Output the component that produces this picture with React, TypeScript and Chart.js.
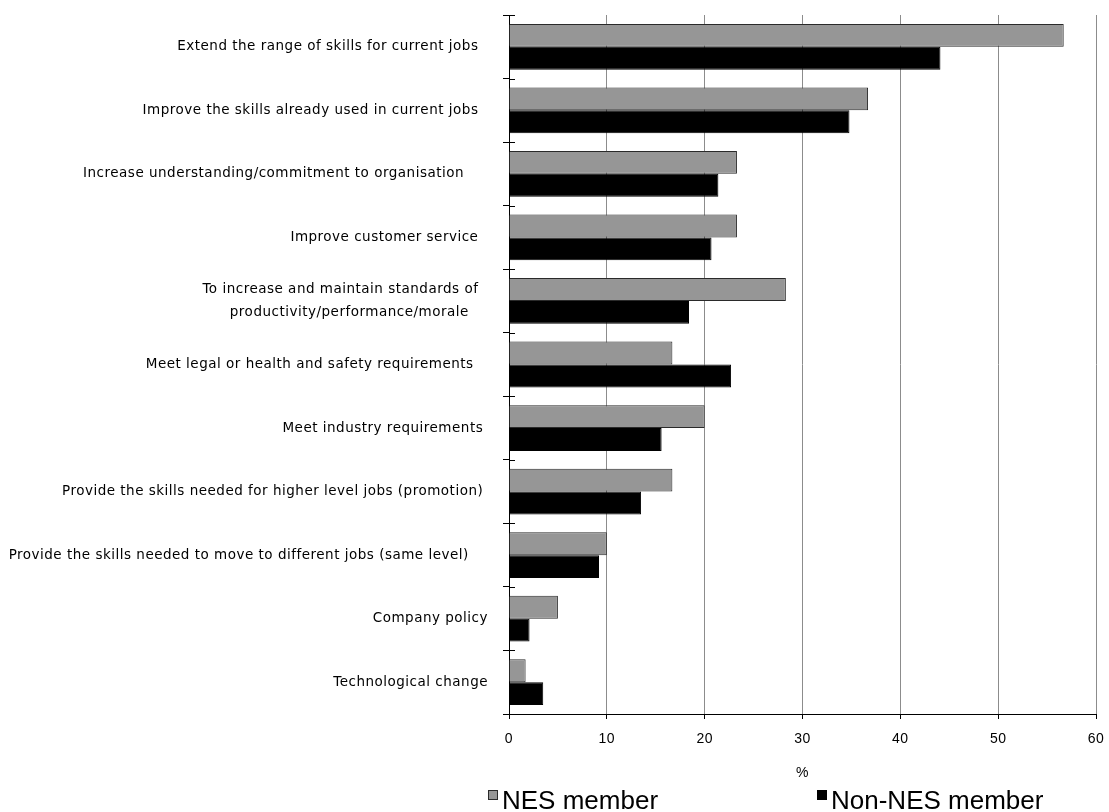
import React, { useEffect, useRef } from 'react';
import { Chart, registerables } from 'chart.js';

Chart.register(...registerables);

// Reasons for training; trailing spaces keep the original label spacing.
const categories: (string | string[])[] = [
  'Extend the range of skills for current jobs  ',
  'Improve the skills already used in current jobs  ',
  'Increase understanding/commitment to organisation     ',
  'Improve customer service  ',
  ['To increase and maintain standards of  ', 'productivity/performance/morale    '],
  'Meet legal or health and safety requirements   ',
  'Meet industry requirements ',
  'Provide the skills needed for higher level jobs (promotion) ',
  'Provide the skills needed to move to different jobs (same level)    ',
  'Company policy',
  'Technological change',
];

const seriesNames = ['NES member', 'Non-NES member'];
const nesMember = [56.7, 36.7, 23.3, 23.3, 28.3, 16.7, 20.0, 16.7, 10.0, 5.0, 1.7];
const nonNesMember = [44.1, 34.8, 21.4, 20.7, 18.4, 22.7, 15.6, 13.5, 9.2, 2.1, 3.5];

const xMin = 0;
const xMax = 60;
const xStep = 10;
const xTitle = '%';

const GREY = '#969696';
const BLACK = '#000000';

// Slightly wider letter spacing for the axis text.
const textSpacing = {
  id: 'textSpacing',
  beforeDraw(chart: any) {
    chart.ctx.letterSpacing = '0.5px';
  },
};

// Small cross marks on the category axis, drawn to the right of the axis line.
const crossTicks = {
  id: 'crossTicks',
  afterDatasetsDraw(chart: any) {
    const { ctx, chartArea } = chart;
    const n = categories.length;
    const step = (chartArea.bottom - chartArea.top) / n;
    ctx.save();
    ctx.strokeStyle = '#000';
    ctx.lineWidth = 1;
    ctx.beginPath();
    for (let i = 0; i <= n; i++) {
      const y = Math.round(chartArea.top + i * step) + 0.5;
      ctx.moveTo(chartArea.left, y);
      ctx.lineTo(chartArea.left + 6, y);
    }
    ctx.stroke();
    ctx.restore();
  },
};

// Legend row under the axis title.
const bottomLegend = {
  id: 'bottomLegend',
  afterDraw(chart: any, _args: any, opts: any) {
    const { ctx } = chart;
    ctx.save();
    ctx.letterSpacing = '0px';
    ctx.font = `${opts.fontSize}px ${opts.fontFamily}`;
    ctx.textBaseline = 'alphabetic';
    ctx.textAlign = 'left';
    chart.data.datasets.forEach((ds: any, i: number) => {
      const x = opts.positions[i];
      ctx.fillStyle = ds.backgroundColor;
      ctx.fillRect(x, opts.boxTop, opts.boxSize, opts.boxSize);
      ctx.strokeStyle = ds.borderColor;
      ctx.lineWidth = 1;
      ctx.strokeRect(x + 0.5, opts.boxTop + 0.5, opts.boxSize - 1, opts.boxSize - 1);
      ctx.fillStyle = '#000';
      ctx.fillText(ds.label, x + opts.boxSize + 4, opts.baseline);
    });
    ctx.restore();
  },
};

export default function App() {
  const canvasRef = useRef<HTMLCanvasElement | null>(null);

  useEffect(() => {
    document.body.style.margin = '0';
    const canvas = canvasRef.current;
    if (!canvas) return;
    const chart = new Chart(canvas, {
      type: 'bar',
      data: {
        labels: categories,
        datasets: [
          {
            label: seriesNames[0],
            data: nesMember,
            backgroundColor: GREY,
            borderColor: '#2a2a2a',
            borderWidth: 1,
          },
          {
            label: seriesNames[1],
            data: nonNesMember,
            backgroundColor: BLACK,
            borderColor: BLACK,
            borderWidth: 1,
          },
        ],
      },
      plugins: [textSpacing, crossTicks, bottomLegend],
      options: {
        indexAxis: 'y',
        animation: false,
        responsive: true,
        maintainAspectRatio: false,
        datasets: {
          bar: {
            categoryPercentage: 0.72,
            barPercentage: 1,
          },
        },
        layout: { padding: { top: 15, right: 13, left: 0, bottom: 0 } },
        plugins: {
          legend: { display: false },
          tooltip: { enabled: false },
          bottomLegend: {
            positions: [488, 817],
            boxTop: 790,
            boxSize: 10,
            baseline: 809,
            fontSize: 26,
            fontFamily: "'Liberation Sans', Arial, sans-serif",
          },
        } as any,
        scales: {
          x: {
            min: xMin,
            max: xMax,
            afterFit: (s: any) => {
              s.height = 98;
              s.paddingLeft = 0;
              s.paddingRight = 0;
            },
            ticks: {
              stepSize: xStep,
              color: '#000',
              padding: 12,
              font: { family: "'Liberation Sans Narrow', 'Liberation Sans', sans-serif", size: 14 },
            },
            grid: {
              color: '#8c8c8c',
              lineWidth: 1,
              tickColor: '#000',
              tickLength: 5,
            },
            border: { display: true, color: '#000', width: 1 },
            title: {
              display: true,
              text: xTitle,
              color: '#000',
              font: { family: "'Liberation Sans Narrow', 'Liberation Sans', sans-serif", size: 14 },
              padding: { top: 0, bottom: 30 },
            },
          },
          y: {
            afterFit: (s: any) => {
              s.width = 509;
              s.paddingTop = 0;
              s.paddingBottom = 0;
            },
            ticks: {
              color: '#000',
              padding: 15,
              autoSkip: false,
              font: { family: "'DejaVu Sans', sans-serif", size: 13.5, lineHeight: 1.65 },
            },
            grid: {
              drawOnChartArea: false,
              tickColor: '#000',
              tickLength: 6,
              offset: true,
            },
            border: { display: true, color: '#000', width: 1 },
          },
        },
      } as any,
    });
    return () => chart.destroy();
  }, []);

  return (
    <div style={{ position: 'relative', width: 1109, height: 812 }}>
      <canvas ref={canvasRef} />
    </div>
  );
}
